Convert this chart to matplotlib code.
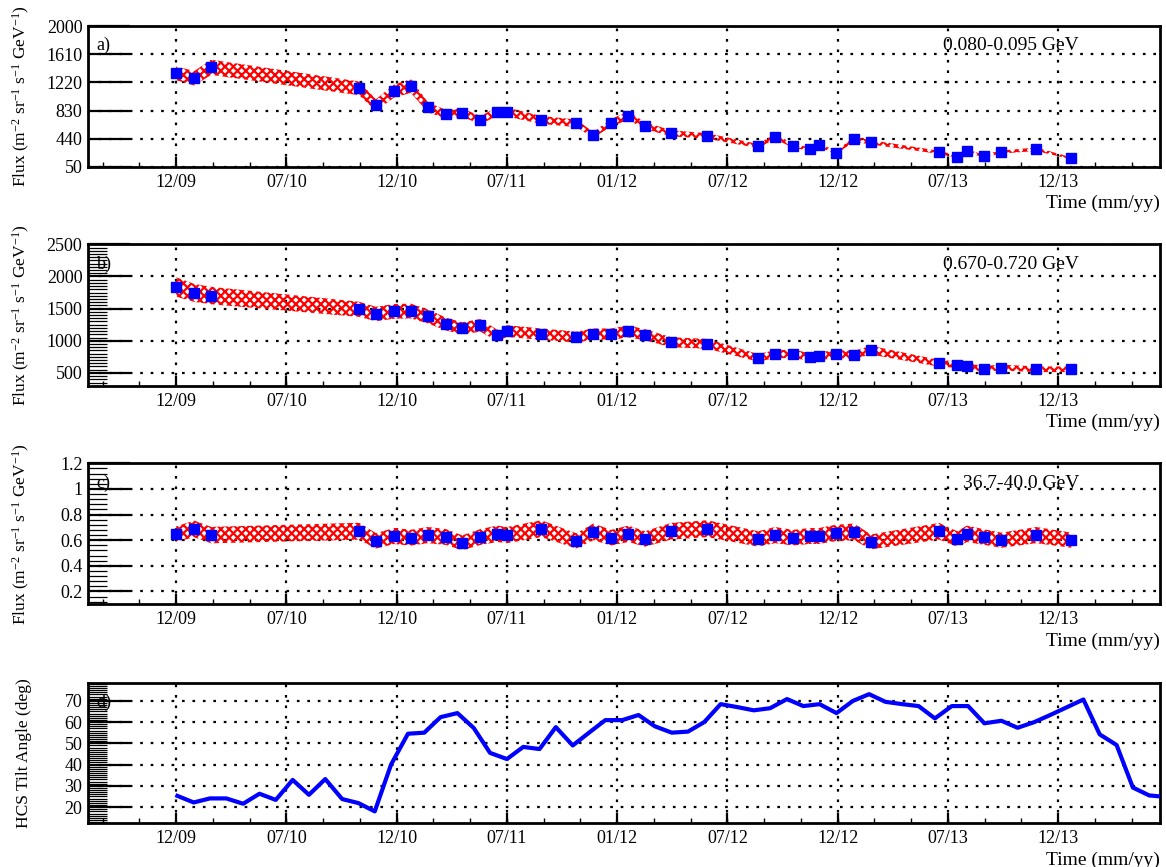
import numpy as np
import matplotlib
matplotlib.use("Agg")
import matplotlib.pyplot as plt
from matplotlib.ticker import MultipleLocator, FixedLocator

plt.rcParams['font.family'] = ['Liberation Serif', 'DejaVu Serif']
plt.rcParams['mathtext.fontset'] = 'custom'
plt.rcParams['mathtext.rm'] = 'Liberation Serif'
plt.rcParams['mathtext.it'] = 'Liberation Serif:italic'
plt.rcParams['hatch.linewidth'] = 1.6

# time axis: days after 2009-12-31, one label every half year
tick_days = [0, 182.6, 365.3, 547.9, 730.5, 913.1, 1095.8, 1278.4, 1461.0]
tick_labels = ['12/09', '07/10', '12/10', '07/11', '01/12', '07/12', '12/12', '07/13', '12/13']

# flux measurement epochs (days)
t_flux = [0, 30, 58, 303, 331, 361, 389, 417, 447, 474, 504, 532, 548, 605, 663, 691,
          721, 749, 777, 820, 880, 964, 992, 1022, 1050, 1065, 1093, 1123, 1151,
          1264, 1294, 1310, 1338, 1367, 1425, 1483]

# a) 0.080-0.095 GeV
flux_a = [1346, 1277, 1429, 1138, 907, 1101, 1170, 876, 779, 801, 700, 815, 811, 700,
          654, 493, 664, 759, 621, 516, 479, 340, 470, 345, 295, 354, 248, 433, 391,
          253, 193, 271, 202, 257, 295, 170]
stat_a = [60, 70, 55, 40, 35, 40, 40, 25, 25, 25, 70, 40, 40, 50, 25, 20, 20, 40, 20,
          45, 20, 15, 15, 15, 15, 15, 15, 15, 15, 15, 15, 15, 15, 15, 15, 15]
sys_a = [95, 100, 105, 95, 80, 90, 95, 70, 60, 60, 55, 62, 62, 55, 52, 40, 52, 58, 48,
         42, 38, 28, 36, 28, 24, 28, 20, 34, 30, 22, 17, 22, 18, 21, 24, 14]

# b) 0.670-0.720 GeV
flux_b = [1837, 1744, 1703, 1489, 1416, 1457, 1462, 1379, 1259, 1192, 1239, 1082, 1150,
          1103, 1056, 1103, 1103, 1145, 1092, 977, 952, 734, 791, 796, 749, 759, 791,
          781, 853, 649, 629, 603, 562, 583, 556, 556]
stat_b = [15] * 36
sys_b = [150, 140, 135, 118, 112, 115, 115, 110, 100, 95, 98, 88, 92, 88, 85, 88, 88,
         92, 87, 78, 76, 59, 63, 64, 60, 61, 63, 62, 68, 52, 50, 48, 45, 46, 44, 44]

# c) 36.7-40.0 GeV
flux_c = [0.649, 0.688, 0.640, 0.670, 0.595, 0.633, 0.620, 0.640, 0.625, 0.580, 0.625,
          0.650, 0.640, 0.690, 0.595, 0.665, 0.620, 0.650, 0.610, 0.670, 0.690, 0.610,
          0.640, 0.620, 0.633, 0.633, 0.657, 0.665, 0.587, 0.670, 0.610, 0.650, 0.625,
          0.600, 0.640, 0.600]
stat_c = [0.012] * 36
sys_c = [0.060, 0.065, 0.064, 0.066, 0.060, 0.063, 0.062, 0.063, 0.062, 0.058, 0.062,
         0.064, 0.063, 0.066, 0.059, 0.065, 0.061, 0.064, 0.060, 0.065, 0.066, 0.060,
         0.063, 0.061, 0.062, 0.062, 0.064, 0.065, 0.058, 0.065, 0.060, 0.064, 0.061,
         0.059, 0.063, 0.059]

# d) HCS tilt angle, one value per Carrington rotation
t_tilt = [2, 29, 56, 83, 111, 138, 165, 193, 220, 247, 275, 302, 329, 356, 384, 411,
          438, 466, 493, 520, 548, 575, 602, 629, 657, 684, 711, 739, 766, 793, 821,
          848, 875, 902, 930, 957, 984, 1012, 1039, 1066, 1094, 1121, 1148, 1175,
          1203, 1230, 1257, 1285, 1312, 1339, 1367, 1394, 1421, 1448, 1476, 1503,
          1530, 1558, 1585, 1612, 1640]
tilt = [25.3, 22.2, 24.1, 24.1, 21.6, 26.3, 23.4, 32.8, 25.8, 33.2, 23.8, 21.9, 18.0,
        40.0, 54.5, 55.0, 62.3, 64.2, 57.2, 45.5, 42.6, 48.3, 47.3, 57.6, 49.0, 55.0,
        60.9, 60.9, 63.3, 58.0, 55.0, 55.5, 60.0, 68.4, 67.0, 65.5, 66.5, 70.8, 67.5,
        68.4, 64.2, 69.9, 73.1, 69.5, 68.4, 67.5, 61.7, 67.5, 67.5, 59.4, 60.6, 57.3,
        59.9, 63.3, 67.0, 70.6, 54.2, 49.2, 29.2, 25.5, 24.8]

flux_label = r'Flux (m$^{-2}$ sr$^{-1}$ s$^{-1}$ GeV$^{-1}$)'
FS = 13

fig = plt.figure(figsize=(11.66, 8.67), dpi=100)
left, width = 0.0755, 0.9194
bottoms = [0.8074, 0.5551, 0.3030, 0.0504]
heights = [0.1626, 0.1631, 0.1626, 0.1622]
axes = [fig.add_axes([left, b, width, h]) for b, h in zip(bottoms, heights)]


def style_axis(ax, ylim, yticks, ylabels, yminor, letter, ylabel):
    ax.set_xlim(-146, 1630)
    ax.set_ylim(*ylim)
    ax.xaxis.set_major_locator(FixedLocator(tick_days))
    ax.set_xticklabels(tick_labels)
    ax.xaxis.set_minor_locator(MultipleLocator(182.625 / 3))
    ax.set_yticks(yticks)
    ax.set_yticklabels(ylabels)
    if yminor:
        ax.yaxis.set_minor_locator(MultipleLocator(yminor))
    else:
        ax.yaxis.set_minor_locator(FixedLocator([]))
    ax.tick_params(axis='both', which='both', direction='in', labelsize=FS,
                   top=False, right=False)
    ax.tick_params(axis='y', which='major', length=30, width=1.6, pad=4)
    ax.tick_params(axis='y', which='minor', length=14, width=0.9)
    ax.tick_params(axis='x', which='major', length=7, width=1.6, pad=5)
    ax.tick_params(axis='x', which='minor', length=3.5, width=1.0)
    ax.grid(True, which='major', color='black', linestyle=(0, (1.2, 3.5)), linewidth=1.6)
    for s in ax.spines.values():
        s.set_linewidth(2)
    ax.set_xlabel('Time (mm/yy)', fontsize=FS + 1, loc='right', labelpad=3)
    ax.set_ylabel(ylabel, fontsize=FS - 0.5)
    ax.yaxis.set_label_coords(-0.052, 0.5)
    ax.text(0.008, 0.86, letter, transform=ax.transAxes, fontsize=FS, va='center')


def flux_panel(ax, flux, stat, sys):
    f = np.array(flux)
    s = np.array(sys)
    ax.fill_between(t_flux, f - s, f + s, facecolor='none', edgecolor='red',
                    hatch='xxxx', linewidth=0, zorder=2)
    ax.errorbar(t_flux, flux, yerr=stat, fmt='s', color='blue', markersize=6.5,
                elinewidth=1.5, capsize=0, zorder=3)


def energy_tag(ax, txt):
    ax.text(0.9245, 0.86, txt, transform=ax.transAxes, fontsize=FS + 1,
            ha='right', va='center')


flux_panel(axes[0], flux_a, stat_a, sys_a)
style_axis(axes[0], (50, 2000), [50, 440, 830, 1220, 1610, 2000],
           ['50', '440', '830', '1220', '1610', '2000'], None, 'a)', flux_label)
energy_tag(axes[0], '0.080-0.095 GeV')

flux_panel(axes[1], flux_b, stat_b, sys_b)
style_axis(axes[1], (300, 2500), [500, 1000, 1500, 2000, 2500],
           ['500', '1000', '1500', '2000', '2500'], 50, 'b)', flux_label)
energy_tag(axes[1], '0.670-0.720 GeV')

flux_panel(axes[2], flux_c, stat_c, sys_c)
style_axis(axes[2], (0.1, 1.2), [0.2, 0.4, 0.6, 0.8, 1.0, 1.2],
           ['0.2', '0.4', '0.6', '0.8', '1', '1.2'], 0.04, 'c)', flux_label)
energy_tag(axes[2], '36.7-40.0 GeV')

axes[3].plot(t_tilt, tilt, color='blue', linewidth=3, zorder=3)
style_axis(axes[3], (12.4, 78.5), [20, 30, 40, 50, 60, 70],
           ['20', '30', '40', '50', '60', '70'], 1, 'd)', 'HCS Tilt Angle (deg)')

fig.savefig('out.png', dpi=100)
